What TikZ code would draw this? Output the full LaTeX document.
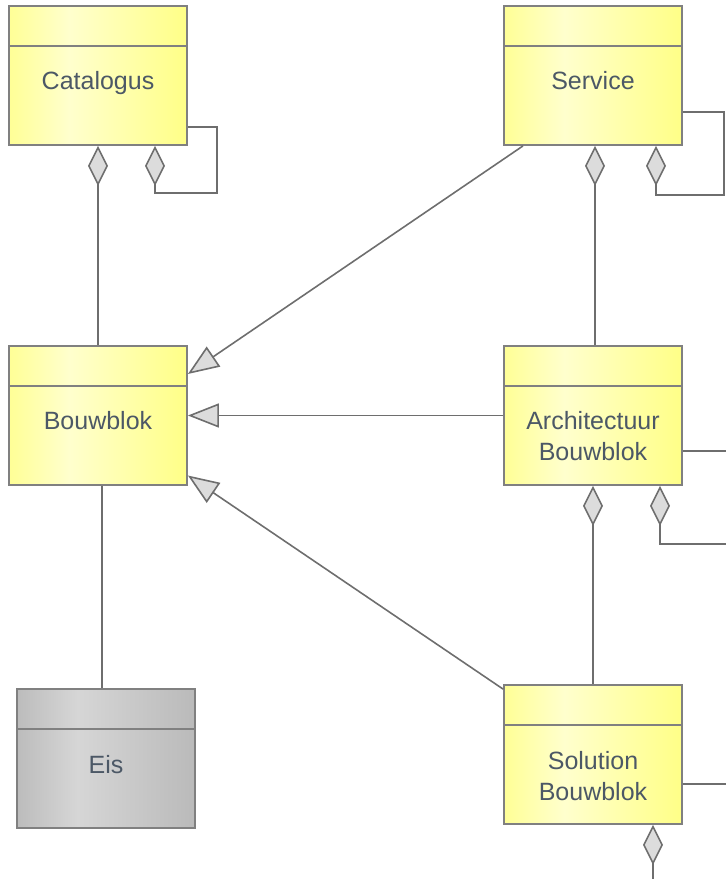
\documentclass[tikz,border=0pt]{standalone}
\usepackage{fontspec}
\setmainfont{Liberation Sans}
\usetikzlibrary{arrows.meta,calc}

\definecolor{yelA}{RGB}{255,255,150}
\definecolor{yelB}{RGB}{255,255,205}
\definecolor{yelC}{RGB}{255,255,135}
\definecolor{greyA}{RGB}{188,188,188}
\definecolor{greyB}{RGB}{214,214,214}
\definecolor{greyC}{RGB}{186,186,186}
\definecolor{edgecol}{RGB}{128,128,128}
\definecolor{wirecol}{RGB}{110,110,110}
\definecolor{tipfill}{RGB}{220,220,220}
\definecolor{labelcol}{RGB}{76,88,102}

\pgfdeclarehorizontalshading{yellowbar}{100bp}{color(0bp)=(yelA); color(25bp)=(yelA); color(42bp)=(yelB); color(75bp)=(yelC); color(100bp)=(yelC)}
\pgfdeclarehorizontalshading{greybar}{100bp}{color(0bp)=(greyA); color(25bp)=(greyA); color(42bp)=(greyB); color(75bp)=(greyC); color(100bp)=(greyC)}

\tikzset{
  classbox/.style={rectangle, draw=edgecol, line width=1.8pt, minimum width=178pt,
    minimum height=139pt, inner sep=0pt,
    path picture={\draw[edgecol, line width=1.8pt]
      ([yshift=-40pt]path picture bounding box.north west) --
      ([yshift=-40pt]path picture bounding box.north east);}},
  yellowbox/.style={classbox, shading=yellowbar},
  greybox/.style={classbox, shading=greybar},
  classname/.style={anchor=north, inner sep=0pt, align=center, text=labelcol,
    font=\fontsize{25}{31}\selectfont},
  wire/.style={draw=wirecol, line width=1.6pt},
  agg/.style={wire, {Diamond[length=40pt, width=20pt, fill=tipfill]}-},
  gen/.style={wire, -{Triangle[length=31pt, width=24pt, fill=tipfill]}}
}

\begin{document}
\begin{tikzpicture}[x=1pt, y=-1pt]
\useasboundingbox (0,0) rectangle (726,879);

% classes
\node[yellowbox] (cat)  at (98,75.5)   {};
\node[yellowbox] (svc)  at (593,75.5)  {};
\node[yellowbox] (bouw) at (98,415.5)  {};
\node[yellowbox] (arch) at (593,415.5) {};
\node[greybox]   (eis)  at (106,758.5) {};
\node[yellowbox] (sol)  at (593,754.5) {};

% class names, set in the lower compartment
\node[classname] (catname)  at ($(cat.north)+(0,66)$)  {Catalogus};
\node[classname] (svcname)  at ($(svc.north)+(0,66)$)  {Service};
\node[classname] (bouwname) at ($(bouw.north)+(0,66)$) {Bouwblok};
\node[classname] (archname) at ($(arch.north)+(0,66)$) {Architectuur\\Bouwblok};
\node[classname] (eisname)  at ($(eis.north)+(0,67)$)  {Eis};
\node[classname] (solname)  at ($(sol.north)+(0,67)$)  {Solution\\Bouwblok};

% open ends leaving the sheet
\coordinate (archloop) at (730,544);
\coordinate (archright) at (730,451);
\coordinate (solright) at (730,784);
\coordinate (soldown) at (653,883);

% aggregations
\draw[agg] (cat.south) -- (bouw.north);
\draw[agg] ($(cat.south)+(57,0)$) -- ++(0,47) -- ++(62,0) |- ($(cat.east)+(0,51.5)$);
\draw[agg] ($(svc.south)+(2,0)$) -- ($(arch.north)+(2,0)$);
\draw[agg] ($(svc.south)+(63,0)$) -- ++(0,49) -- ++(68,0) |- ($(svc.east)+(0,36.5)$);
\draw[agg] (arch.south) -- (sol.north);
\draw[agg] ($(arch.south)+(67,0)$) |- (archloop);
\draw[agg] ($(sol.south)+(60,0)$) -- (soldown);

% generalizations
\draw[gen] ($(svc.south)+(-70,0)$) -- ($(bouw.east)+(0,-41.5)$);
\draw[gen] (arch.west) -- (bouw.east);
\draw[gen] ($(sol.north west)+(0,5)$) -- ($(bouw.east)+(0,60)$);

% plain associations
\draw[wire] ($(bouw.south)+(4,0)$) -- ($(eis.north)+(-4,0)$);
\draw[wire] ($(arch.east)+(0,35.5)$) -- (archright);
\draw[wire] ($(sol.east)+(0,29.5)$) -- (solright);
\end{tikzpicture}
\end{document}
